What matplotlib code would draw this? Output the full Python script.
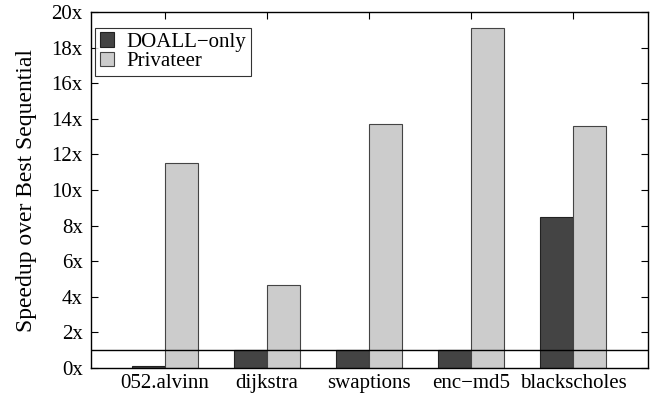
import matplotlib
matplotlib.use("Agg")
import matplotlib.pyplot as plt
import numpy as np

categories = ["052.alvinn", "dijkstra", "swaptions", "enc\u2212md5", "blackscholes"]
doall = [0.1, 1.0, 1.0, 1.0, 8.5]
privateer = [11.5, 4.65, 13.7, 19.1, 13.6]
yticks = [0, 2, 4, 6, 8, 10, 12, 14, 16, 18, 20]
ytick_labels = [f"{v}x" for v in yticks]

plt.rcParams['font.family'] = ['Liberation Serif', 'DejaVu Serif']
fig = plt.figure(figsize=(6.56, 3.95), dpi=100)
ax = fig.add_axes([91/656, 1-368/395, (648-91)/656, (368-12)/395])

x = np.arange(len(categories))
w = 0.32
ax.bar(x - w/2, doall, w, color="#444444", edgecolor="#222222", linewidth=0.8, label="DOALL\u2212only", zorder=2)
ax.bar(x + w/2, privateer, w, color="#cccccc", edgecolor="#444444", linewidth=0.8, label="Privateer", zorder=2)
ax.axhline(1.0, color="black", linewidth=1.0, zorder=3)

ax.set_xlim(-0.725, 4.735)
ax.set_ylim(0, 20)
ax.set_yticks(yticks)
ax.set_yticklabels(ytick_labels, fontsize=15)
ax.set_xticks(x)
ax.set_xticklabels(categories, fontsize=15)
ax.tick_params(axis='both', direction='in', length=5, top=True, right=True, width=0.8)
ax.tick_params(axis='x', bottom=False, pad=4)
ax.tick_params(axis='y', pad=6)
ax.set_ylabel("Speedup over Best Sequential", fontsize=17, labelpad=10)
for s in ax.spines.values():
    s.set_linewidth(1.0)

leg = ax.legend(loc='upper left', bbox_to_anchor=(0.008, 0.955), fontsize=15, frameon=True,
                fancybox=False, edgecolor='black', handlelength=0.7, handleheight=0.7,
                borderpad=0.2, labelspacing=0.0, handletextpad=0.6, borderaxespad=0.0)
leg.get_frame().set_linewidth(0.8)

fig.savefig("out.png", dpi=100)
